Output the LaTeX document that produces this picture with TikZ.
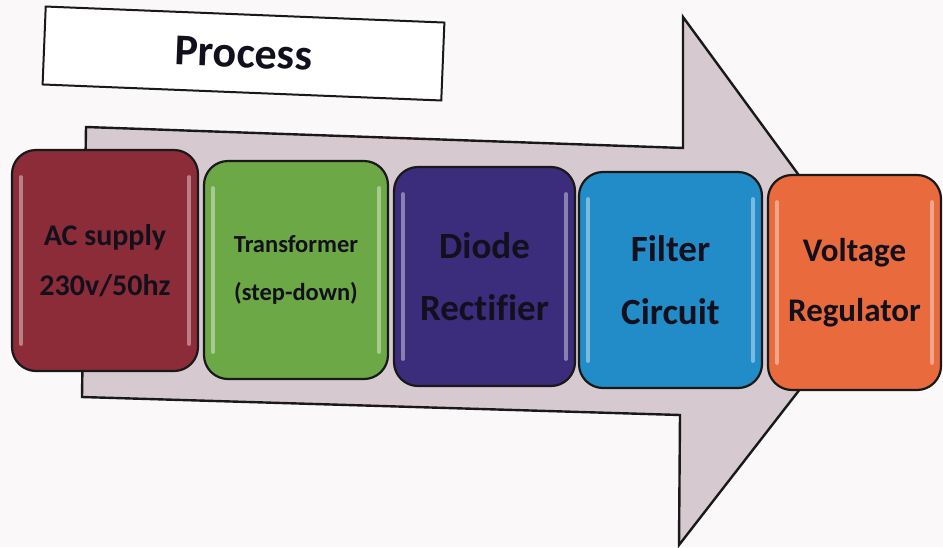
\documentclass[tikz,border=0pt]{standalone}
\usepackage{fontspec}
\setmainfont{Carlito}[Ligatures=NoCommon]
\definecolor{bg}{RGB}{250,248,248}
\definecolor{arrowfill}{RGB}{214,202,208}
\definecolor{txt}{RGB}{18,16,28}
\definecolor{cred}{RGB}{140,44,56}
\definecolor{cgreen}{RGB}{108,168,70}
\definecolor{cpurple}{RGB}{60,44,124}
\definecolor{cblue}{RGB}{34,140,200}
\definecolor{corange}{RGB}{233,106,60}
\tikzset{
  stagebox/.style={draw=black!90, line width=2.2pt, rounded corners=24pt, inner sep=0pt,
    align=center, text=txt},
  gloss/.style={white, opacity=0.4, line width=3.5pt, line cap=round},
  bigarrow/.style={draw=black!90, line width=2.4pt, fill=arrowfill, line join=miter},
  titlebox/.style={draw=black!90, line width=2pt, fill=white, inner sep=0pt, text=txt}
}
\begin{document}
\begin{tikzpicture}[x=1pt,y=-1pt]
\fill[bg] (0,0) rectangle (943,547);
\useasboundingbox (0,0) rectangle (943,547);

% big arrow
\coordinate (a1) at (86,127);
\coordinate (a2) at (683,148);
\coordinate (a3) at (683,17);
\coordinate (a4) at (880,286);
\coordinate (a5) at (679,545);
\coordinate (a6) at (680,415);
\coordinate (a7) at (82,397);
\draw[bigarrow] (a1) -- (a2) -- (a3) -- (a4) -- (a5) -- (a6) -- (a7) -- cycle;

% title
\node[titlebox, minimum width=399pt, minimum height=78pt, rotate=-2.3,
      font=\fontsize{44}{50}\selectfont\bfseries] (title) at (243.5,53.5) {Process};

% stages
\node[stagebox, fill=cred, minimum width=186pt, minimum height=221pt,
      font=\fontsize{30}{50}\selectfont\bfseries] (s1) at (105,260.5) {AC supply\\230v/50hz};
\node[stagebox, fill=cgreen, minimum width=184pt, minimum height=218pt,
      font=\fontsize{24.5}{48}\selectfont\bfseries] (s2) at (296,270) {Transformer\\(step-down)};
\node[stagebox, fill=cpurple, minimum width=181pt, minimum height=219pt,
      font=\fontsize{37}{62}\selectfont\bfseries] (s3) at (484.5,276.5) {Diode\\Rectifier};
\node[stagebox, fill=cblue, minimum width=183pt, minimum height=216pt,
      font=\fontsize{37}{63}\selectfont\bfseries] (s4) at (670.5,280) {Filter\\Circuit};
\node[stagebox, fill=corange, minimum width=173pt, minimum height=215pt,
      font=\fontsize{33}{60}\selectfont\bfseries] (s5) at (854.5,282.5) {Voltage\\Regulator};

% glossy highlights
\foreach \s in {s1,s2,s3,s4,s5}{
  \draw[gloss] ([xshift=10pt,yshift=-28pt]\s.north west) -- ([xshift=10pt,yshift=28pt]\s.south west);
  \draw[gloss] ([xshift=-10pt,yshift=-28pt]\s.north east) -- ([xshift=-10pt,yshift=28pt]\s.south east);
}
\end{tikzpicture}
\end{document}
